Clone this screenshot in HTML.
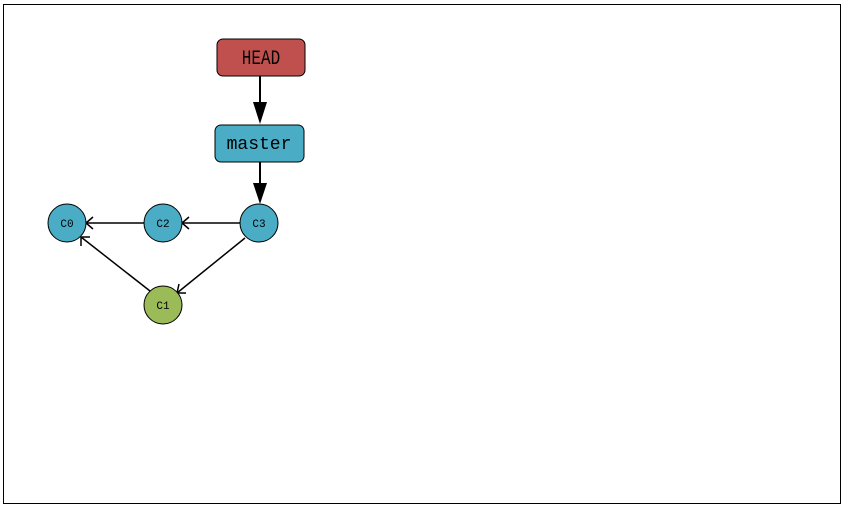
<!DOCTYPE html>
<html><head><style>html,body{margin:0;padding:0;background:#fff}</style></head><body>
<svg width="844" height="506" xmlns="http://www.w3.org/2000/svg" font-family="Liberation Mono, monospace">
<rect x="3.5" y="4.5" width="837" height="499" fill="#fff" stroke="#000"/>
<rect x="217" y="39" width="88" height="37" rx="6" fill="#c0504d" stroke="#000"/>
<text transform="translate(261,64) scale(0.8,1)" font-size="20" text-anchor="middle">HEAD</text>
<line x1="260" y1="76" x2="260" y2="105" stroke="#000" stroke-width="2"/>
<polygon points="253,102 267,102 260,124" fill="#000"/>
<rect x="215" y="125" width="89" height="37" rx="6" fill="#4bacc6" stroke="#000"/>
<text x="259" y="149" font-size="18" text-anchor="middle">master</text>
<line x1="260" y1="162" x2="260" y2="186" stroke="#000" stroke-width="2"/>
<polygon points="253,183 267,183 260,204" fill="#000"/>
<g stroke="#000" stroke-width="1.5" fill="none">
<line x1="240" y1="223" x2="182" y2="223"/><polyline points="189,217 182,223 189,229"/>
<line x1="144" y1="223" x2="86" y2="223"/><polyline points="93,217 86,223 93,229"/>
<line x1="245" y1="238" x2="177" y2="293"/><polyline points="179,284 177,293 186,293"/>
<line x1="150" y1="291" x2="81" y2="237"/><polyline points="81,246 81,237 90,237"/>
</g>
<g stroke="#000" stroke-width="1">
<circle cx="67" cy="223" r="19" fill="#4bacc6"/>
<circle cx="163" cy="223" r="19" fill="#4bacc6"/>
<circle cx="259" cy="223" r="19" fill="#4bacc6"/>
<circle cx="163" cy="305" r="19" fill="#9bbb59"/>
</g>
<g font-size="11" text-anchor="middle">
<text x="67" y="227">C0</text><text x="163" y="227">C2</text>
<text x="259" y="227">C3</text><text x="163" y="309">C1</text>
</g>
</svg>
</body></html>
